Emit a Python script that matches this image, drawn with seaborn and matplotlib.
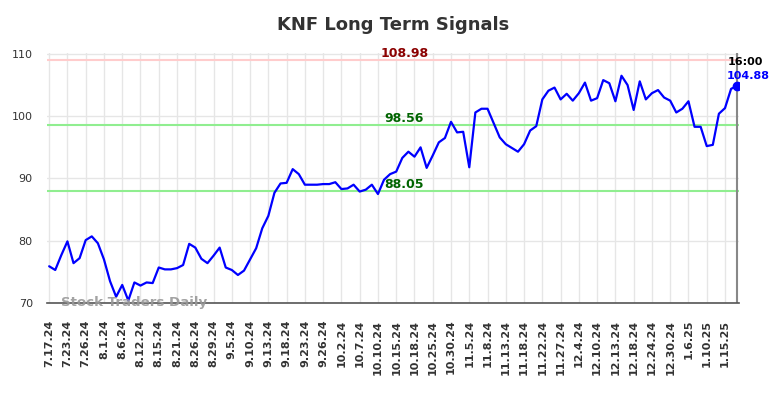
import pandas as pd
import seaborn as sns
import matplotlib
matplotlib.use("Agg")
import matplotlib.pyplot as plt

# closing prices (one per plotted session)
prices = [
    75.9, 75.3, 77.7, 79.9, 76.4, 77.2, 80.1, 80.7, 79.6, 77.0,
    73.5, 71.0, 72.9, 70.4, 73.3, 72.8, 73.3, 73.2, 75.7, 75.4,
    75.4, 75.6, 76.1, 79.5, 78.9, 77.1, 76.4, 77.6, 78.9, 75.7,
    75.3, 74.5, 75.2, 77.0, 78.8, 82.0, 84.0, 87.7, 89.2, 89.3,
    91.5, 90.7, 89.0, 89.0, 89.0, 89.1, 89.1, 89.4, 88.3, 88.4,
    89.0, 87.9, 88.2, 89.0, 87.5, 89.8, 90.7, 91.1, 93.3, 94.3,
    93.5, 95.0, 91.7, 93.7, 95.8, 96.5, 99.1, 97.4, 97.5, 91.8,
    100.6, 101.2, 101.2, 98.9, 96.6, 95.5, 94.9, 94.3, 95.5, 97.7,
    98.4, 102.7, 104.1, 104.6, 102.7, 103.6, 102.5, 103.7, 105.4, 102.5,
    102.9, 105.8, 105.3, 102.4, 106.5, 105.0, 101.0, 105.6, 102.7, 103.7,
    104.2, 103.0, 102.5, 100.6, 101.2, 102.4, 98.3, 98.3, 95.2, 95.4,
    100.4, 101.3, 104.4, 104.88,
]

tick_labels = [
    "7.17.24", "7.23.24", "7.26.24", "8.1.24", "8.6.24", "8.12.24", "8.15.24",
    "8.21.24", "8.26.24", "8.29.24", "9.5.24", "9.10.24", "9.13.24", "9.18.24",
    "9.23.24", "9.26.24", "10.2.24", "10.7.24", "10.10.24", "10.15.24",
    "10.18.24", "10.25.24", "10.30.24", "11.5.24", "11.8.24", "11.13.24",
    "11.18.24", "11.22.24", "11.27.24", "12.4.24", "12.10.24", "12.13.24",
    "12.18.24", "12.24.24", "12.30.24", "1.6.25", "1.10.25", "1.15.25",
]

resistance = 108.98
support_levels = [98.56, 88.05]
last_time = "16:00"

df = pd.DataFrame({"idx": range(len(prices)), "price": prices})

sns.set_style("white")
plt.rcParams["font.family"] = ["DejaVu Sans"]

fig = plt.figure(figsize=(7.84, 3.98), dpi=100)
ax = fig.add_axes([0.0596, 0.2387, 0.8830, 0.6273])

# grid
for i in range(0, len(prices), 3):
    ax.axvline(i, color="#e6e6e6", lw=1, zorder=0)
for yv in [70, 80, 90, 100, 110]:
    ax.axhline(yv, color="#e6e6e6", lw=1, zorder=0)

# signal levels
ax.axhline(resistance, color="#ffcccc", lw=1.5, zorder=1)
for lvl in support_levels:
    ax.axhline(lvl, color="#90ee90", lw=1.5, zorder=1)

sns.lineplot(data=df, x="idx", y="price", color="#0000ff", lw=1.6, ax=ax, zorder=3)
last = len(prices) - 1
ax.plot(last, prices[-1], "o", color="#0000ff", ms=6, zorder=4)
ax.axvline(last, color="#888888", lw=1.5, zorder=2)

lab_x = 58.3
ax.text(lab_x, resistance, f"{resistance:.2f}", color="#8b0000", fontsize=9,
        fontweight="bold", ha="center", va="bottom")
for lvl in support_levels:
    ax.text(lab_x, lvl, f"{lvl:.2f}", color="#006400", fontsize=9,
            fontweight="bold", ha="center", va="bottom")

ax.annotate(last_time, (last, prices[-1]), xytext=(6, 17), textcoords="offset points",
            ha="center", va="center", fontsize=8, fontweight="bold", color="black")
ax.annotate(f"{prices[-1]:.2f}", (last, prices[-1]), xytext=(8, 7), textcoords="offset points",
            ha="center", va="center", fontsize=8, fontweight="bold", color="#0000ff")

ax.text(0.02, 0.0, "Stock Traders Daily", transform=ax.transAxes, fontsize=9.6,
        fontweight="bold", color="#999999", alpha=0.9, ha="left", va="center", zorder=5)

ax.set_title("KNF Long Term Signals", fontsize=13, fontweight="bold", color="#333333", pad=17)

ax.set_xlim(-0.4, last + 0.3)
ax.set_ylim(70, 110.1)
ax.set_xticks(list(range(0, len(prices), 3)))
ax.set_xticklabels(tick_labels, rotation=90, fontsize=8, fontweight="bold", color="#333333")
ax.set_yticks([70, 80, 90, 100, 110])
ax.tick_params(axis="y", labelsize=8, colors="#333333", length=0, pad=10)
ax.tick_params(axis="x", length=0, pad=12)
ax.set_xlabel("")
ax.set_ylabel("")

for s in ["left", "right", "top"]:
    ax.spines[s].set_visible(False)
ax.spines["bottom"].set_color("#555555")
ax.spines["bottom"].set_linewidth(1.2)

fig.savefig("out.png", dpi=100)
